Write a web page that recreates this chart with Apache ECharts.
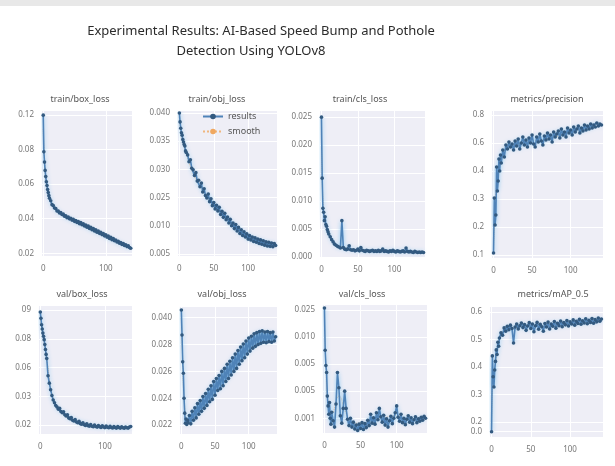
<!DOCTYPE html>
<html>
<head>
<meta charset="utf-8">
<script src="https://cdn.jsdelivr.net/npm/echarts@6/dist/echarts.min.js"></script>
<style>
  html, body { margin: 0; background: #fff; }
  #chart { width: 615px; height: 466px; }
</style>
</head>
<body>
<div id="chart"></div>
<script>
// epochs (dense at the start, every 2nd epoch after)
const epochs = [0,1,2,3,4,5,6,7,8,9,10,12,14,16,18,20,22,24,26,28,30,32,34,36,38,40,42,44,46,48,50,52,54,56,58,60,62,64,66,68,70,72,74,76,78,80,82,84,86,88,90,92,94,96,98,100,102,104,106,108,110,112,114,116,118,120,122,124,126,128,130,132,134,136,138,140];

const trainBoxLoss = [0.1200,0.0935,0.0860,0.0800,0.0755,0.0718,0.0690,0.0662,0.0640,0.0617,0.0598,
  0.0580,0.0552,0.0545,0.0528,0.0524,0.0506,0.0505,0.0492,0.0494,0.0480,
  0.0483,0.0468,0.0472,0.0457,0.0462,0.0449,0.0453,0.0440,0.0445,0.0431,
  0.0437,0.0423,0.0430,0.0414,0.0422,0.0406,0.0414,0.0397,0.0405,0.0389,
  0.0396,0.0379,0.0388,0.0370,0.0379,0.0361,0.0370,0.0352,0.0361,0.0344,
  0.0351,0.0335,0.0342,0.0326,0.0333,0.0317,0.0324,0.0307,0.0315,0.0298,
  0.0306,0.0290,0.0296,0.0281,0.0287,0.0273,0.0278,0.0264,0.0270,0.0256,
  0.0262,0.0248,0.0254,0.0241,0.0236];

const trainObjLoss = [0.0400,0.0378,0.0362,0.0351,0.0345,0.0334,0.0328,0.0322,0.0318,0.0306,0.0302,
  0.0296,0.0279,0.0284,0.0263,0.0259,0.0245,0.0252,0.0231,0.0233,0.0217,
  0.0226,0.0204,0.0212,0.0195,0.0189,0.0199,0.0180,0.0187,0.0170,0.0178,
  0.0162,0.0171,0.0157,0.0166,0.0148,0.0156,0.0141,0.0151,0.0135,0.0142,
  0.0127,0.0136,0.0120,0.0127,0.0113,0.0123,0.0107,0.0116,0.0101,0.0110,
  0.0096,0.0105,0.0092,0.0100,0.0087,0.0096,0.0085,0.0092,0.0081,0.0090,
  0.0079,0.0087,0.0076,0.0085,0.0074,0.0083,0.0072,0.0080,0.0070,0.0079,
  0.0069,0.0077,0.0068,0.0076,0.0071];

const trainClsLoss = [0.0250,0.0141,0.0087,0.0080,0.0065,0.0072,0.0058,0.0055,0.0049,0.0045,0.0041,
  0.0036,0.0031,0.0027,0.0023,0.0021,0.0019,0.0018,0.0016,0.0065,0.0017,
  0.0014,0.0013,0.0014,0.0020,0.0013,0.0012,0.0013,0.0011,0.0012,0.0014,
  0.0011,0.0017,0.0012,0.0011,0.0010,0.0012,0.0011,0.0010,0.0011,0.0012,
  0.0010,0.0011,0.0010,0.0012,0.0010,0.0011,0.0014,0.0010,0.0011,0.0010,
  0.0009,0.0011,0.0010,0.0012,0.0010,0.0009,0.0011,0.0010,0.0009,0.0010,
  0.0011,0.0009,0.0016,0.0010,0.0009,0.0010,0.0009,0.0008,0.0010,0.0009,
  0.0008,0.0009,0.0008,0.0009,0.0008];

const metricsPrecision = [0.110,0.385,0.250,0.300,0.540,0.420,0.470,0.580,0.520,0.600,0.560,
  0.625,0.590,0.650,0.630,0.665,0.640,0.655,0.625,0.670,0.645,
  0.680,0.630,0.660,0.690,0.650,0.675,0.640,0.685,0.660,0.700,
  0.655,0.640,0.690,0.665,0.705,0.670,0.650,0.695,0.675,0.710,
  0.680,0.700,0.665,0.715,0.690,0.705,0.720,0.685,0.730,0.700,
  0.715,0.690,0.735,0.710,0.725,0.700,0.740,0.715,0.730,0.745,
  0.710,0.735,0.720,0.750,0.725,0.745,0.730,0.755,0.735,0.750,
  0.740,0.760,0.745,0.755,0.750];

const valBoxLoss = [0.0888,0.0850,0.0810,0.0785,0.0760,0.0740,0.0720,0.0690,0.0660,0.0630,0.0605,
  0.0500,0.0455,0.0415,0.0380,0.0352,0.0335,0.0318,0.0309,0.0296,0.0301,
  0.0282,0.0275,0.0280,0.0262,0.0255,0.0262,0.0243,0.0238,0.0246,0.0229,
  0.0224,0.0233,0.0218,0.0214,0.0222,0.0208,0.0205,0.0214,0.0201,0.0197,
  0.0207,0.0196,0.0193,0.0202,0.0192,0.0189,0.0199,0.0191,0.0187,0.0197,
  0.0189,0.0185,0.0195,0.0188,0.0184,0.0193,0.0186,0.0183,0.0192,0.0185,
  0.0182,0.0191,0.0184,0.0181,0.0190,0.0184,0.0181,0.0189,0.0183,0.0180,
  0.0188,0.0183,0.0181,0.0187,0.0191];

const valObjLoss = [0.0413,0.0371,0.0326,0.0307,0.0265,0.0240,0.0223,0.0230,0.0221,0.0228,0.0224,
  0.0236,0.0222,0.0243,0.0228,0.0249,0.0232,0.0256,0.0238,0.0261,0.0243,
  0.0268,0.0248,0.0273,0.0253,0.0280,0.0259,0.0286,0.0263,0.0293,0.0270,
  0.0298,0.0278,0.0303,0.0281,0.0310,0.0286,0.0315,0.0293,0.0322,0.0298,
  0.0327,0.0304,0.0333,0.0310,0.0339,0.0315,0.0345,0.0322,0.0351,0.0328,
  0.0356,0.0333,0.0361,0.0339,0.0366,0.0344,0.0369,0.0349,0.0373,0.0352,
  0.0375,0.0355,0.0377,0.0357,0.0378,0.0359,0.0376,0.0358,0.0377,0.0360,
  0.0375,0.0359,0.0376,0.0361,0.0368];

const valClsLoss = [0.0254,0.0168,0.0137,0.0123,0.0075,0.0055,0.0038,0.0062,0.0030,0.0018,0.0042,
  0.0025,0.0012,0.0059,0.0123,0.0092,0.0035,0.0020,0.0050,0.0085,0.0050,
  0.0028,0.0015,0.0030,0.0012,0.0022,0.0008,0.0016,0.0005,0.0018,0.0009,
  0.0021,0.0007,0.0019,0.0011,0.0026,0.0015,0.0038,0.0020,0.0031,0.0018,
  0.0041,0.0027,0.0050,0.0033,0.0022,0.0036,0.0016,0.0029,0.0012,0.0025,
  0.0034,0.0019,0.0030,0.0041,0.0055,0.0032,0.0024,0.0038,0.0021,0.0030,
  0.0017,0.0028,0.0035,0.0022,0.0031,0.0019,0.0027,0.0033,0.0021,0.0029,
  0.0024,0.0032,0.0026,0.0034,0.0030];

const metricsMap50 = [0.164,0.440,0.364,0.327,0.389,0.420,0.462,0.445,0.490,0.475,0.505,
  0.524,0.515,0.542,0.530,0.548,0.535,0.552,0.540,0.487,0.545,
  0.556,0.538,0.550,0.560,0.543,0.554,0.533,0.549,0.561,0.540,
  0.556,0.528,0.550,0.562,0.537,0.555,0.546,0.530,0.558,0.545,
  0.563,0.538,0.556,0.548,0.565,0.541,0.559,0.550,0.567,0.546,
  0.561,0.553,0.569,0.549,0.564,0.556,0.571,0.552,0.566,0.558,
  0.573,0.555,0.568,0.560,0.575,0.557,0.570,0.562,0.576,0.559,
  0.572,0.564,0.578,0.566,0.574];

// smoothed trend ("smooth" legend entry)
const smoothEpochs = [0,2,5,10,20,30,40,60,80,100,120,140];
const trainBoxSmooth = [0.110,0.088,0.071,0.060,0.052,0.048,0.046,0.041,0.037,0.033,0.028,0.0236];
const trainObjSmooth = [0.039,0.036,0.033,0.030,0.025,0.022,0.019,0.015,0.0118,0.0091,0.0078,0.0071];
const trainClsSmooth = [0.022,0.010,0.0065,0.0045,0.0022,0.0018,0.0015,0.0012,0.0011,0.0010,0.0010,0.0009];
const precisionSmooth = [0.15,0.33,0.48,0.57,0.64,0.65,0.665,0.675,0.69,0.715,0.73,0.75];
const valBoxSmooth = [0.085,0.080,0.073,0.060,0.036,0.029,0.025,0.021,0.0195,0.0189,0.0186,0.0187];
const valObjSmooth = [0.040,0.033,0.025,0.0225,0.0238,0.0248,0.0268,0.0298,0.0325,0.0352,0.0367,0.0367];
const valClsSmooth = [0.022,0.014,0.006,0.004,0.0075,0.004,0.002,0.0022,0.003,0.0035,0.0027,0.0029];
const map50Smooth = [0.20,0.38,0.41,0.50,0.54,0.545,0.548,0.549,0.555,0.562,0.565,0.570];

const panelTitles = ['train/box_loss','train/obj_loss','train/cls_loss','metrics/precision',
  'val/box_loss','val/obj_loss','val/cls_loss','metrics/mAP_0.5'];
const panelValues = [trainBoxLoss, trainObjLoss, trainClsLoss, metricsPrecision,
  valBoxLoss, valObjLoss, valClsLoss, metricsMap50];
const panelSmooth = [trainBoxSmooth, trainObjSmooth, trainClsSmooth, precisionSmooth,
  valBoxSmooth, valObjSmooth, valClsSmooth, map50Smooth];

// tick labels as printed in the figure, and where they sit on each y axis
const yTickLabels = [
  ['0.02','0.04','0.06','0.08','0.12'],
  ['0.005','0.010','0.025','0.030','0.035','0.040'],
  ['0.000','0.005','0.010','0.015','0.020','0.025'],
  ['0.1','0.2','0.3','0.4','0.6','0.8'],
  ['0.02','0.03','0.06','0.08','09'],
  ['0.022','0.024','0.026','0.028','0.040'],
  ['0.001','0.005','0.005','0.010','0.025'],
  ['0.0','0.2','0.3','0.4','0.5','0.6']
];
const yTickValues = [
  [0.02,0.045,0.07,0.095,0.12],
  [0.005,0.012,0.019,0.026,0.033,0.040],
  [0,0.005,0.010,0.015,0.020,0.025],
  [0.1,0.24,0.38,0.52,0.66,0.8],
  [0.02,0.0375,0.055,0.0725,0.09],
  [0.022,0.0265,0.031,0.0355,0.040],
  [0.003,0.0085,0.014,0.0195,0.025],
  [0.165,0.2,0.3,0.4,0.5,0.6]
];
const xTickValues = [[0,100],[0,50,100],[0,50,100],[0,50,100],[0,100],[0,50,100],[0,50,100],[0,50,100]];

// layout
const gridRects = [
  [42,111,90,145],[178,111,99,145],[320,111,105,146],[492,111,111,147],
  [39,306,93,128],[180,307,97,127],[323,305,104,128],[490,307,113,130]
];
const yRanges = [
  [0.018,0.123],[0.0045,0.0405],[0,0.0261],[0.085,0.82],
  [0.0145,0.0925],[0.0205,0.0418],[0,0.026],[0.145,0.618]
];
const titleCenters = [[80,95],[217,95],[360,95],[547,95],[82,290],[222,290],[362,290],[553,290]];

const FONT = "'Noto Sans', sans-serif";
const lineBlue = '#4f83b8';
const markerBlue = '#335a80';
const smoothOrange = '#f0a860';

const chart = echarts.init(document.getElementById('chart'), null, { renderer: 'canvas' });

const grids = [], xAxes = [], yAxes = [], series = [];
const titles = [
  { text: 'Experimental Results: AI-Based Speed Bump and Pothole', left: 261, top: 25, padding: 0,
    textAlign: 'center', textStyle: { fontSize: 13, fontWeight: 'normal', color: '#2b2b2b', fontFamily: FONT } },
  { text: 'Detection Using YOLOv8', left: 251, top: 45, padding: 0,
    textAlign: 'center', textStyle: { fontSize: 13, fontWeight: 'normal', color: '#2b2b2b', fontFamily: FONT } }
];

panelTitles.forEach((name, i) => {
  const r = gridRects[i];
  grids.push({ left: r[0], top: r[1], width: r[2], height: r[3], show: true,
    backgroundColor: '#eeeef6', borderWidth: 0 });
  titles.push({ text: name, left: titleCenters[i][0], top: titleCenters[i][1], padding: 0, textAlign: 'center',
    textStyle: { fontSize: 9, fontWeight: 'normal', color: '#555', fontFamily: FONT } });

  xAxes.push({
    type: 'value', gridIndex: i, min: -2, max: 142,
    axisLine: { show: false },
    axisTick: { show: false, customValues: xTickValues[i] },
    axisLabel: { customValues: xTickValues[i], fontSize: 8, color: '#777', margin: 9, fontFamily: FONT },
    splitLine: { show: true, lineStyle: { color: '#ffffff', width: 1 } }
  });

  const ticks = yTickValues[i], labels = yTickLabels[i];
  yAxes.push({
    type: 'value', gridIndex: i, min: yRanges[i][0], max: yRanges[i][1],
    axisLine: { show: false },
    axisTick: { show: false, customValues: ticks },
    axisLabel: {
      customValues: ticks, fontSize: 8, color: '#777', margin: 8, fontFamily: FONT,
      formatter: (v) => {
        let best = 0;
        ticks.forEach((t, k) => { if (Math.abs(t - v) < Math.abs(ticks[best] - v)) best = k; });
        return labels[best];
      }
    },
    splitLine: { show: true, lineStyle: { color: '#ffffff', width: 1 } }
  });

  series.push({
    name: 'smooth', type: 'line', xAxisIndex: i, yAxisIndex: i, z: 2,
    data: smoothEpochs.map((e, k) => [e, panelSmooth[i][k]]),
    symbol: 'none', smooth: true,
    lineStyle: { color: smoothOrange, width: 1, type: 'dotted', opacity: 0.8 },
    itemStyle: { color: smoothOrange }
  });
  series.push({
    name: 'results', type: 'line', xAxisIndex: i, yAxisIndex: i, z: 3,
    data: epochs.map((e, k) => [e, panelValues[i][k]]),
    symbol: 'circle', symbolSize: 3.6, showAllSymbol: true,
    lineStyle: { color: lineBlue, width: 1.6, shadowColor: 'rgba(110,190,240,0.8)', shadowBlur: 4 },
    itemStyle: { color: markerBlue }
  });
});

chart.setOption({
  animation: false,
  backgroundColor: '#ffffff',
  title: titles,
  graphic: [{ type: 'rect', shape: { x: 0, y: 0, width: 615, height: 6 }, style: { fill: '#e8e8e8' }, silent: true }],
  legend: {
    data: ['results', 'smooth'], orient: 'vertical', left: 202, top: 112,
    itemWidth: 20, itemHeight: 7, itemGap: 6, padding: 0,
    textStyle: { fontSize: 9, color: '#555', fontFamily: FONT }
  },
  grid: grids,
  xAxis: xAxes,
  yAxis: yAxes,
  series: series
});
</script>
</body>
</html>
